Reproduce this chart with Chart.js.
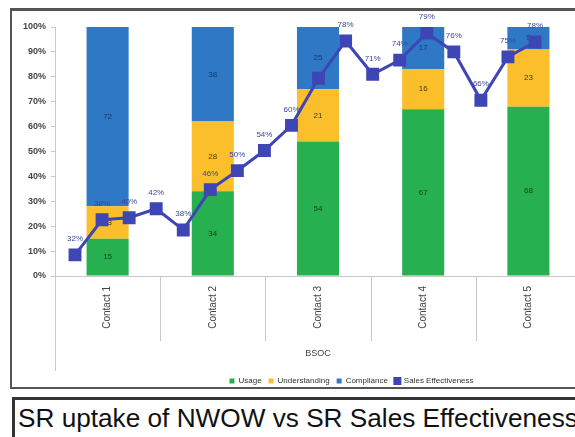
<!DOCTYPE html>
<html>
<head>
<meta charset="utf-8">
<script src="https://cdn.jsdelivr.net/npm/chart.js@4"></script>
<style>
  html, body { margin: 0; padding: 0; background: #fff; overflow: hidden; }
  body { width: 575px; height: 437px; position: relative; }
  #frame { position: absolute; left: 10px; top: 8px; width: 600px; height: 381px; border: 2px solid #555; border-top-width: 3px; box-sizing: border-box; }
  #wrap { position: absolute; left: 12px; top: 10px; width: 580px; height: 385px; }
  #caption { position: absolute; left: 12px; top: 397px; width: 600px; height: 50px; border: 3px solid #333; box-sizing: border-box;
             font-family: "Liberation Sans", Arial, sans-serif; font-size: 26.2px; color: #111; padding-left: 3px; line-height: 36px; white-space: nowrap; }
</style>
</head>
<body>
<div id="frame"></div>
<div id="wrap"><canvas id="myChart"></canvas></div>
<div id="caption">SR uptake of NWOW vs SR Sales Effectiveness</div>
<script>
// Stacked bars (percent of SRs per contact)
const contacts = ['Contact 1', 'Contact 2', 'Contact 3', 'Contact 4', 'Contact 5'];
const usage = [15, 34, 54, 67, 68];
const understanding = [13, 28, 21, 16, 23];
const compliance = [72, 38, 25, 17, 9];

// Sales effectiveness line: height on the 0-100% axis, and the printed label
const effectiveness = [8.5, 22.6, 23.4, 27, 18.5, 34.7, 42.3, 50.4, 60.5, 79.4, 94.4, 81, 86.7, 97.6, 90, 70.6, 88, 94];
const effectivenessLabels = ['32%', '38%', '40%', '42%', '38%', '46%', '50%', '54%', '60%', '', '78%', '71%', '74%', '79%', '76%', '66%', '75%', '78%'];

const FONT = '"Liberation Sans", Arial, sans-serif';

// numbers inside the bar segments (drawn before the line so the markers cover them)
const barLabels = {
    id: 'barLabels',
    afterDatasetDraw(chart, args) {
        const meta = args.meta;
        if (meta.type !== 'bar') return;
        const ctx = chart.ctx;
        const ds = chart.data.datasets[args.index];
        ctx.save();
        ctx.font = '8px ' + FONT;
        ctx.fillStyle = ds.labelColor;
        ctx.textAlign = 'center';
        ctx.textBaseline = 'middle';
        meta.data.forEach((el, i) => {
            ctx.fillText(ds.data[i], el.x, (el.y + el.base) / 2);
        });
        ctx.restore();
    },
    afterDatasetsDraw(chart) {
        const ctx = chart.ctx;
        chart.data.datasets.forEach((ds, di) => {
            if (ds.type !== 'line') return;
            const meta = chart.getDatasetMeta(di);
            ctx.save();
            ctx.font = '8px ' + FONT;
            ctx.fillStyle = '#3a4796';
            ctx.textAlign = 'center';
            ctx.textBaseline = 'middle';
            meta.data.forEach((el, i) => {
                ctx.fillText(effectivenessLabels[i], el.x, el.y - 16);
            });
            ctx.restore();
        });
    }
};

// Excel-style category separators below the axis
const separators = {
    id: 'separators',
    afterDraw(chart) {
        const ctx = chart.ctx;
        const x = chart.scales.x;
        const area = chart.chartArea;
        const step = (area.right - area.left) / contacts.length;
        ctx.save();
        ctx.strokeStyle = '#c8c8c8';
        ctx.lineWidth = 1;
        ctx.beginPath();
        ctx.moveTo(area.left + 0.5, area.bottom);
        ctx.lineTo(area.left + 0.5, area.bottom + 95);
        for (let i = 1; i < contacts.length; i++) {
            const px = Math.round(x.left + step * i) + 0.5;
            ctx.moveTo(px, area.bottom);
            ctx.lineTo(px, area.bottom + 65);
        }
        ctx.stroke();
        ctx.restore();
    }
};

// the legend in the picture sits right of centre
const legendShift = {
    id: 'legendShift',
    afterLayout(chart) {
        chart.legend.left += 55;
        chart.legend.right += 55;
    }
};

const ctx = document.getElementById('myChart').getContext('2d');
new Chart(ctx, {
    type: 'bar',
    data: {
        labels: contacts,
        datasets: [
            { label: 'Usage', data: usage, backgroundColor: '#26b04f', labelColor: '#1d3b25', order: 1 },
            { label: 'Understanding', data: understanding, backgroundColor: '#fbbf2c', labelColor: '#4a3a10', order: 1 },
            { label: 'Compliance', data: compliance, backgroundColor: '#2f78c6', labelColor: '#1c3566', order: 1 },
            {
                type: 'line',
                label: 'Sales Effectiveness',
                data: effectiveness.map((v, i) => ({ x: i + 1, y: v })),
                xAxisID: 'x2',
                stack: 'eff',
                borderColor: '#3d46b4',
                backgroundColor: '#3d46b4',
                borderWidth: 3,
                pointStyle: 'rect',
                pointRadius: 7,
                pointHoverRadius: 7,
                tension: 0,
                order: 0
            }
        ]
    },
    options: {
        responsive: true,
        maintainAspectRatio: false,
        animation: false,
        datasets: { bar: { barPercentage: 0.4, categoryPercentage: 1, grouped: false } },
        layout: { padding: { top: 17, right: 11, left: 0, bottom: 0 } },
        scales: {
            x: {
                stacked: true,
                grid: { display: true, drawOnChartArea: false, drawTicks: false },
                border: { display: true, color: '#c8c8c8' },
                ticks: { minRotation: 90, maxRotation: 90, padding: 10, color: '#444', font: { family: FONT, size: 10 } },
                title: { display: true, text: 'BSOC', color: '#444', font: { family: FONT, size: 9 }, padding: { top: 4, bottom: 11 } },
                afterFit: s => { s.height = 94; }
            },
            x2: { type: 'linear', display: false, offset: false, grid: { offset: false }, min: 0.26, max: 19.7 },
            y: {
                stacked: true,
                min: 0,
                max: 100,
                ticks: { stepSize: 10, padding: 5, color: '#444', font: { family: FONT, size: 9, weight: 'bold' }, callback: v => v + '%' },
                grid: { drawOnChartArea: false, drawTicks: true, tickLength: 4, color: '#c8c8c8' },
                border: { display: true, color: '#c8c8c8' },
                afterFit: s => { s.width = 43; }
            }
        },
        plugins: {
            legend: {
                position: 'bottom',
                labels: {
                    boxWidth: 5, boxHeight: 5, padding: 7, color: '#333', font: { family: FONT, size: 8 },
                    sort: (a, b) => a.datasetIndex - b.datasetIndex
                }
            },
            tooltip: { enabled: false }
        }
    },
    plugins: [barLabels, separators, legendShift]
});
</script>
</body>
</html>
